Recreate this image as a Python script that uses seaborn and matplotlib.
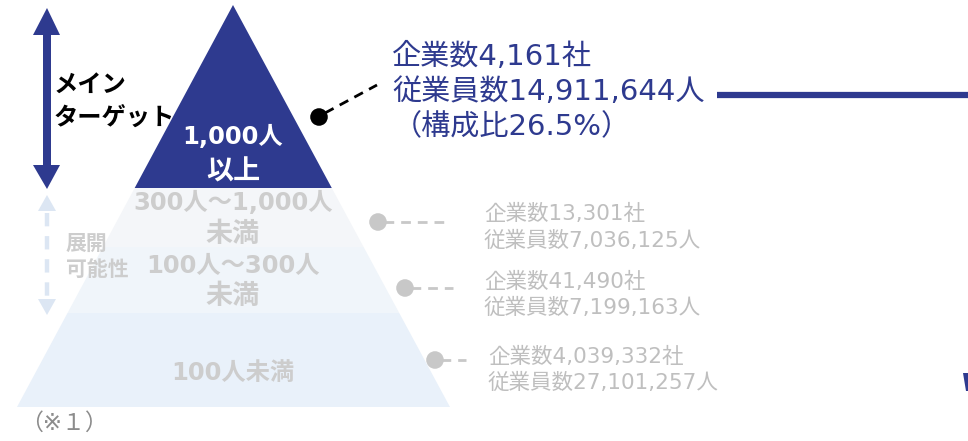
import matplotlib
matplotlib.use("Agg")
import matplotlib.pyplot as plt
from matplotlib.patches import Polygon
import seaborn as sns
import pandas as pd

# ---------------- data ----------------
categories = ["1,000人\n以上", "300人～1,000人\n未満", "100人～300人\n未満", "100人未満"]
companies = [4161, 13301, 41490, 4039332]
employees = [14911644, 7036125, 7199163, 27101257]
share_top = 26.5
main_label = ["メイン", "ターゲット"]
sub_label = ["展開", "可能性"]
note = "（※１）"

# ---------------- style ----------------
sns.set_theme(style="white")
plt.rcParams["font.family"] = ["DejaVu Sans", "Noto Sans CJK JP"]

NAVY = "#2E3A8F"
BAND_COLORS = [NAVY, "#F4F6F9", "#F0F5FA", "#E9F1FA"]
LABEL_COLORS = ["white", "#CDCDCD", "#CDCDCD", "#CDCDCD"]
GRAY_TXT = "#BFBFBF"
GRAY_DOT = "#C8C8C8"

W, H = 968, 441
fig = plt.figure(figsize=(W / 100, H / 100), dpi=100)
ax = fig.add_axes([0, 0, 1, 1])
ax.set_xlim(0, W)
ax.set_ylim(H, 0)
ax.axis("off")

# pyramid geometry (layout)
apex = (233, 5)
base_y, base_l, base_r = 407, 17, 450
band_edges = [apex[1], 188, 247, 313, base_y]


def xl(y):
    return apex[0] + (base_l - apex[0]) * (y - apex[1]) / (base_y - apex[1])


def xr(y):
    return apex[0] + (base_r - apex[0]) * (y - apex[1]) / (base_y - apex[1])


for i, cat in enumerate(categories):
    y0, y1 = band_edges[i], band_edges[i + 1]
    if i == 0:
        pts = [(apex[0], y0), (xr(y1), y1), (xl(y1), y1)]
    else:
        pts = [(xl(y0), y0), (xr(y0), y0), (xr(y1), y1), (xl(y1), y1)]
    ax.add_patch(Polygon(pts, closed=True, facecolor=BAND_COLORS[i], edgecolor="none", zorder=1))

# band labels
label_pos = [(137, 173), (203, 235), (266, 297), (373,)]
for i, cat in enumerate(categories):
    for line, yy in zip(cat.split("\n"), label_pos[i]):
        has_digit = any(ch.isdigit() for ch in line)
        ax.text(233, yy, line, ha="center", va="center",
                fontsize=17.5 if has_digit else 19.5, fontweight="bold",
                color=LABEL_COLORS[i], zorder=3)

# main target double arrow
ax.add_patch(Polygon([(47, 8), (60, 35), (51, 35), (51, 165), (60, 165), (47, 189),
                      (33, 165), (43, 165), (43, 35), (33, 35)], closed=True,
                     facecolor=NAVY, edgecolor="none", zorder=2))
for t, yy in zip(main_label, (85, 118)):
    ax.text(54, yy, t, ha="left", va="center", fontsize=17.5, fontweight="bold", color="black", zorder=4)

# expansion dashed arrow
LB = "#DCE6F3"
ax.add_patch(Polygon([(47, 195), (56, 211), (38, 211)], closed=True, facecolor=LB, edgecolor="none"))
ax.add_patch(Polygon([(47, 315), (56, 299), (38, 299)], closed=True, facecolor=LB, edgecolor="none"))
ax.plot([47, 47], [213, 297], color=LB, lw=3.2, linestyle=(0, (3, 2.2)), solid_capstyle="butt")
for t, yy in zip(sub_label, (244, 270)):
    ax.text(66, yy, t, ha="left", va="center", fontsize=15, fontweight="bold", color="#CDCDCD")

ax.text(20, 423, note, ha="left", va="center", fontsize=16.5, color="#8C8C8C")

# callout dots
dots = pd.DataFrame({
    "x": [319, 378, 405, 435],
    "y": [117, 222, 288, 360],
    "cat": categories,
})
ends = [(377, 85), (447, 222), (453, 288), (466, 360)]
dot_colors = ["black", GRAY_DOT, GRAY_DOT, GRAY_DOT]
sns.scatterplot(data=dots, x="x", y="y", hue="cat", palette=dot_colors, s=160,
                edgecolor="none", legend=False, ax=ax, zorder=5)
for (x0, y0), (x1, y1), c in zip(zip(dots["x"], dots["y"]), ends, dot_colors):
    ax.plot([x0 + 6, x1], [y0 - (4 if c == "black" else 0), y1], color=c, lw=2.0,
            linestyle=(0, (3.5, 2.5)), zorder=4)

# main (navy) annotation
navy_lines = [f"企業数{companies[0]:,}社", f"従業員数{employees[0]:,}人", f"（構成比{share_top}%）"]
for t, yy, xx in zip(navy_lines, (57, 92, 127), (392, 392, 393)):
    ax.text(xx, yy, t, ha="left", va="center", fontsize=21, color=NAVY)
ax.plot([717, 968], [95, 95], color=NAVY, lw=4.5, solid_capstyle="butt")

# gray annotations
gray_y = [(214, 241), (282, 308), (357, 383)]
gray_x = [484, 484, 488]
for i in range(1, 4):
    l1 = f"企業数{companies[i]:,}社"
    l2 = f"従業員数{employees[i]:,}人"
    for t, yy in zip((l1, l2), gray_y[i - 1]):
        ax.text(gray_x[i - 1], yy, t, ha="left", va="center", fontsize=15.5, color=GRAY_TXT)

# fragment of an arrow at the right edge
ax.add_patch(Polygon([(963, 373), (968, 373), (968, 391), (966, 391)], closed=True,
                     facecolor=NAVY, edgecolor="none"))

fig.savefig("out.png", dpi=100)
